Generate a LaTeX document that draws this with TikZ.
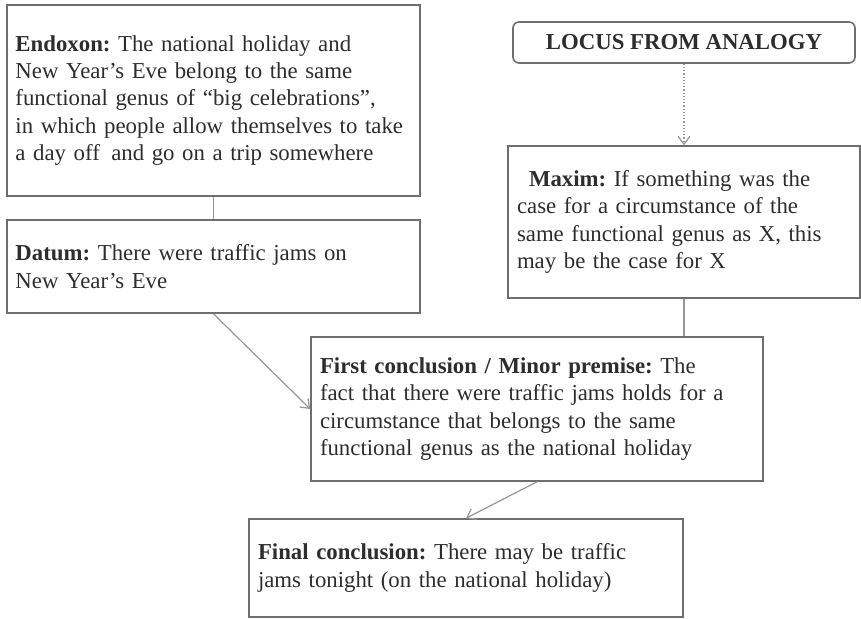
\documentclass[tikz,border=0pt]{standalone}
\usepackage{fontspec}
\setmainfont{Liberation Serif}
\usepackage{xcolor}
\usepackage{tikz}
\usetikzlibrary{arrows.meta}
\definecolor{textgray}{RGB}{45,45,45}
\definecolor{boxgray}{RGB}{110,110,110}
\definecolor{linegray}{RGB}{150,150,150}
\frenchspacing

\tikzset{
  argbox/.style={draw=boxgray, line width=0.8pt, rectangle, align=left, inner xsep=4pt, text=textgray, font=\fontsize{11.4}{13.6}\selectfont},
  link/.style={draw=linegray, line width=0.6pt},
  linkarrow/.style={link, -{Straight Barb[length=4pt,width=6pt]}}
}

\begin{document}
\begin{tikzpicture}[x=0.5pt, y=-0.5pt]
\useasboundingbox (0,0) rectangle (861,618);
\node[argbox, minimum width=206.5pt, minimum height=95.5pt, text width=198pt] (endoxon) at (213.5,100.5)
  {\textbf{Endoxon:} The national holiday and\\ New Year’s Eve belong to the same\\ functional genus of “big celebrations”,\\ in which people allow themselves to take\\ a day off\, and go on a trip somewhere};
\node[argbox, minimum width=206.5pt, minimum height=46.5pt, text width=198pt] (datum) at (213.5,266.5)
  {\textbf{Datum:} There were traffic jams on\\ New Year’s Eve};
\node[argbox, rounded corners=3pt, minimum width=171pt, minimum height=20.5pt] (locus) at (684,42.5)
  {\textbf{LOCUS FROM ANALOGY}};
\node[argbox, minimum width=176pt, minimum height=76pt, text width=167pt] (maxim) at (684,222)
  {\hspace*{6pt}\textbf{Maxim:} If something was the\\ case for a circumstance of the\\ same functional genus as X, this\\ may be the case for X};
\node[argbox, minimum width=226pt, minimum height=72pt, text width=217pt] (first) at (537,409)
  {\textbf{First conclusion / Minor premise:} The\\ fact that there were traffic jams holds for a\\ circumstance that belongs to the same\\ functional genus as the national holiday};
\node[argbox, minimum width=217pt, minimum height=49pt, text width=208pt] (final) at (466,568)
  {\textbf{Final conclusion:} There may be traffic\\ jams tonight (on the national holiday)};
\draw[link] (endoxon) -- (datum);
\draw[linkarrow] (datum.south) -- (first.west);
\draw[linkarrow, densely dotted] (locus) -- (maxim);
\draw[link] (maxim.south) -- (maxim.south |- first.north);
\draw[linkarrow] (first.south) -- (final.north);
\end{tikzpicture}
\end{document}
